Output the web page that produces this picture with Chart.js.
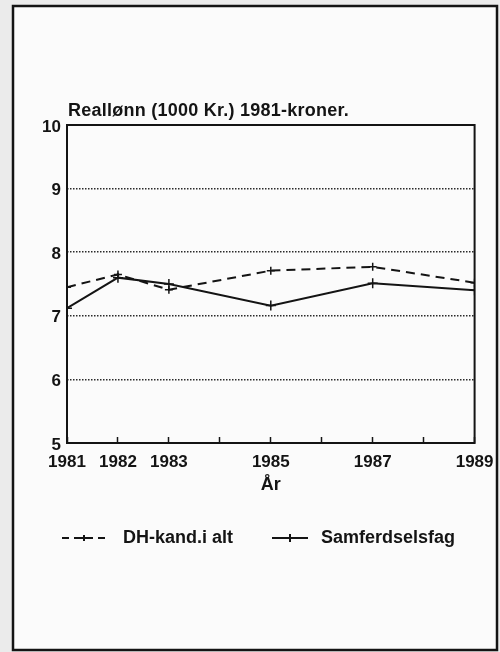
<!DOCTYPE html>
<html>
<head>
<meta charset="utf-8">
<script src="https://cdn.jsdelivr.net/npm/chart.js@4"></script>
<style>
  html, body { margin: 0; padding: 0; background: #ebebeb; }
</style>
</head>
<body>
<canvas id="realloennchart" width="500" height="652"></canvas>
<script>
// Reallønn, 1000 kr i 1981-kroner
var years = [1981, 1982, 1983, 1985, 1987, 1989];
var dhKand = [7.45, 7.65, 7.41, 7.71, 7.77, 7.52];
var samferdsel = [7.12, 7.60, 7.50, 7.16, 7.51, 7.40];
var yearLabels = [1981, 1982, 1983, 1985, 1987, 1989];
var seriesNames = ['DH-kand.i alt', 'Samferdselsfag'];
var chartTitle = 'Reallønn (1000 Kr.) 1981-kroner.';

var ink = '#141414';
var fontFamily = '"Liberation Sans", Arial, Helvetica, sans-serif';

function points(values) {
    return years.map(function (yr, i) { return { x: yr, y: values[i] }; });
}

// small canvas used as legend symbol: line sample with a cross in the middle
function legendSample(dashed, x0, x1, crossHalf) {
    var c = document.createElement('canvas');
    c.width = 52;
    c.height = 16;
    var g = c.getContext('2d');
    g.strokeStyle = ink;
    g.lineWidth = 2;
    g.setLineDash(dashed ? [7, 5] : []);
    g.beginPath();
    g.moveTo(x0, 8);
    g.lineTo(x1, 8);
    g.stroke();
    g.setLineDash([]);
    var mid = (x0 + x1) / 2;
    g.beginPath();
    g.moveTo(mid, 8 - crossHalf);
    g.lineTo(mid, 8 + crossHalf);
    g.moveTo(mid - crossHalf, 8);
    g.lineTo(mid + crossHalf, 8);
    g.stroke();
    return c;
}

var pageBox = {
    id: 'pageBox',
    beforeDraw: function (chart) {
        var c = chart.ctx;
        c.save();
        c.fillStyle = '#ebebeb';
        c.fillRect(0, 0, chart.width, chart.height);
        c.fillStyle = '#fbfbfb';
        c.fillRect(13, 6, 484, 644);
        c.strokeStyle = ink;
        c.lineWidth = 2.5;
        c.strokeRect(13, 6, 484, 644);
        c.restore();
    }
};

var plotFrame = {
    id: 'plotFrame',
    beforeDatasetsDraw: function (chart) {
        var a = chart.chartArea;
        var c = chart.ctx;
        c.save();
        c.strokeStyle = ink;
        c.lineWidth = 2;
        c.setLineDash([]);
        c.strokeRect(a.left, a.top, a.right - a.left, a.bottom - a.top);
        c.restore();
    },
    afterDraw: function (chart) {
        var a = chart.chartArea;
        var c = chart.ctx;
        c.save();
        c.fillStyle = ink;
        c.font = 'bold 18px ' + fontFamily;
        c.letterSpacing = '0.25px';
        c.textBaseline = 'alphabetic';
        c.fillText(chartTitle, a.left + 1, a.top - 9);
        c.restore();
    }
};

var ctx = document.getElementById('realloennchart').getContext('2d');

var realloennchart = new Chart(ctx, {
    type: 'line',
    data: {
        datasets: [{
            label: seriesNames[0],
            data: points(dhKand),
            borderColor: ink,
            borderWidth: 2,
            borderDash: [9, 6],
            pointStyle: 'cross',
            pointRadius: 4,
            pointBorderWidth: 1.5,
            pointBorderColor: ink,
            tension: 0
        }, {
            label: seriesNames[1],
            data: points(samferdsel),
            borderColor: ink,
            borderWidth: 2,
            pointStyle: 'cross',
            pointRadius: 5,
            pointBorderWidth: 1.5,
            pointBorderColor: ink,
            tension: 0
        }]
    },
    options: {
        responsive: false,
        animation: false,
        layout: {
            padding: { left: 17, right: 0, top: 125, bottom: 95 }
        },
        scales: {
            x: {
                type: 'linear',
                min: 1981,
                max: 1989,
                afterFit: function (scale) { scale.height = 59; },
                ticks: {
                    stepSize: 1,
                    autoSkip: false,
                    maxRotation: 0,
                    padding: 6.5,
                    color: ink,
                    font: { family: fontFamily, size: 17, weight: 'bold', lineHeight: 2.18 },
                    callback: function (v) {
                        return yearLabels.indexOf(v) >= 0 ? String(v) : '';
                    }
                },
                grid: {
                    drawOnChartArea: false,
                    drawTicks: true,
                    tickLength: -6,
                    tickColor: ink,
                    tickWidth: 1.5
                },
                border: { display: false },
                title: {
                    display: true,
                    text: 'År',
                    color: ink,
                    font: { family: fontFamily, size: 18, weight: 'bold' },
                    padding: { top: 0, bottom: 6 }
                }
            },
            y: {
                min: 5,
                max: 10,
                afterFit: function (scale) { scale.width = 50; },
                ticks: {
                    stepSize: 1,
                    padding: 6,
                    labelOffset: 2,
                    color: ink,
                    font: { family: fontFamily, size: 17, weight: 'bold' }
                },
                grid: {
                    drawTicks: false,
                    lineWidth: 1.5,
                    color: function (c) {
                        return (c.tick && (c.tick.value === 5 || c.tick.value === 10)) ? 'rgba(0,0,0,0)' : '#2a2a2a';
                    }
                },
                border: { display: false, dash: [1.5, 1.5] }
            }
        },
        plugins: {
            title: { display: false },
            tooltip: { enabled: false },
            legend: {
                position: 'bottom',
                labels: {
                    usePointStyle: true,
                    pointStyleWidth: 52,
                    padding: 27,
                    color: ink,
                    font: { family: fontFamily, size: 18, weight: 'bold' },
                    generateLabels: function () {
                        return [{
                            text: seriesNames[0],
                            pointStyle: legendSample(true, 0, 44, 3),
                            fontColor: ink,
                            lineWidth: 0,
                            datasetIndex: 0
                        }, {
                            text: seriesNames[1],
                            pointStyle: legendSample(false, 12, 48, 4),
                            fontColor: ink,
                            lineWidth: 0,
                            datasetIndex: 1
                        }];
                    }
                }
            }
        }
    },
    plugins: [pageBox, plotFrame]
});
</script>
</body>
</html>
